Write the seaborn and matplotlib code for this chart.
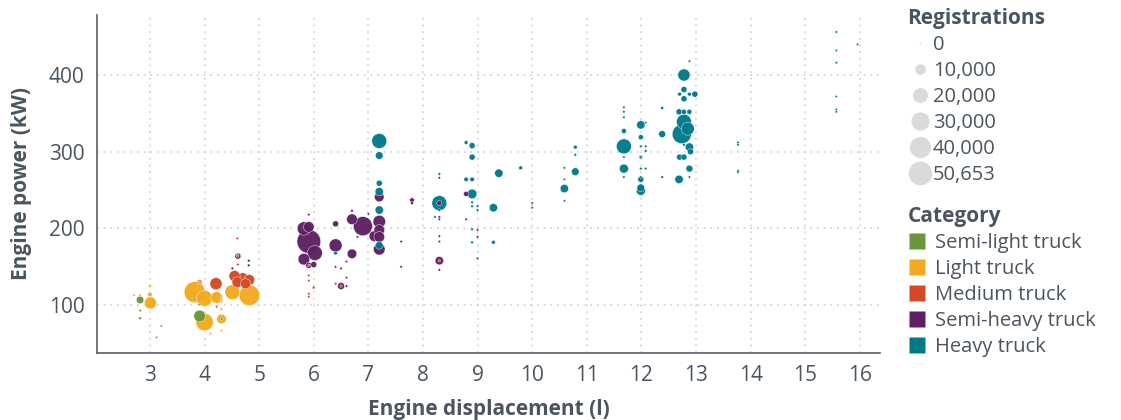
import matplotlib
matplotlib.use('Agg')
import matplotlib.pyplot as plt
from matplotlib.lines import Line2D
import pandas as pd
import seaborn as sns

# (engine displacement l, engine power kW, registrations)
semi_light = [(2.82, 107, 4700), (2.82, 93, 200), (2.82, 83, 400), (3.21, 73, 100),
              (3.12, 58, 100), (3.91, 86, 12000), (3.91, 101, 200), (3.82, 108, 200),
              (4.31, 82, 300)]

light = [(3.01, 103, 13000), (3.0, 114, 1500), (3.0, 125, 300), (2.71, 113, 200),
         (2.82, 113, 200), (3.82, 117, 40000), (4.0, 109, 23000), (4.22, 110, 12000),
         (3.91, 130, 500), (4.51, 117, 20000), (4.82, 113, 38000), (4.0, 78, 27000),
         (4.31, 82, 8000), (4.31, 105, 300), (4.31, 108, 300), (4.31, 112, 300),
         (4.31, 67, 200), (4.11, 63, 200), (4.31, 95, 200)]

medium = [(4.21, 128, 13000), (4.55, 138, 11000), (4.7, 135, 11000), (4.82, 133, 10000),
          (4.6, 130, 10000), (4.75, 128, 9000), (4.61, 153, 300), (6.4, 128, 300),
          (5.91, 139, 200), (5.91, 132, 200), (6.0, 123, 400), (5.91, 115, 200),
          (5.91, 111, 200), (4.22, 98, 200), (4.6, 187, 300), (4.6, 165, 300),
          (3.91, 130, 2000), (5.91, 152, 200), (6.5, 125, 200), (8.3, 158, 200),
          (4.61, 164, 200)]

semi_heavy = [(4.61, 164, 3000), (4.81, 158, 300), (4.81, 152, 300), (4.51, 148, 300),
              (5.82, 200, 16000), (5.91, 183, 50653), (6.02, 168, 20000), (5.82, 160, 12000),
              (5.91, 202, 10000), (5.91, 152, 3000), (6.0, 153, 3000), (5.91, 218, 200),
              (6.4, 206, 3000), (6.4, 178, 15000), (6.5, 148, 200), (6.4, 150, 200),
              (6.5, 125, 4000), (6.6, 136, 200), (6.6, 125, 200), (6.7, 167, 8000),
              (6.6, 157, 200), (6.7, 212, 10000), (6.9, 203, 33000), (6.7, 223, 300),
              (7.0, 219, 200), (7.2, 209, 14000), (7.2, 198, 10000), (7.11, 190, 10000),
              (7.2, 189, 10000), (7.2, 173, 12000), (7.2, 241, 8000), (7.6, 183, 200),
              (7.6, 150, 200), (7.8, 237, 1500), (7.8, 233, 500), (8.3, 233, 2000),
              (8.3, 224, 200), (8.3, 215, 200), (8.3, 190, 200), (8.3, 183, 200),
              (8.3, 158, 6000), (8.3, 146, 200), (8.79, 245, 2000), (9.0, 198, 200),
              (9.0, 189, 200), (9.0, 161, 200), (8.3, 212, 200), (8.79, 212, 200),
              (8.3, 266, 200), (12.38, 267, 200)]

heavy = [(6.4, 168, 1000), (6.8, 189, 300), (7.2, 314, 20000), (7.2, 295, 5000),
         (7.2, 259, 3000), (7.2, 224, 6000), (7.2, 248, 6000), (7.2, 178, 5000),
         (8.3, 233, 20000), (8.22, 215, 200), (8.3, 271, 300), (8.79, 312, 1000),
         (8.9, 308, 3000), (8.9, 293, 3000), (8.79, 264, 1500), (8.9, 264, 1500),
         (8.9, 245, 8000), (8.9, 234, 300), (8.9, 229, 300), (9.0, 229, 300),
         (9.0, 224, 300), (9.29, 227, 6000), (9.39, 272, 6000), (9.79, 279, 1000),
         (10.0, 233, 200), (10.0, 227, 200), (9.29, 182, 1000), (10.59, 252, 6000),
         (10.59, 279, 200), (10.59, 264, 200), (10.59, 236, 200), (10.79, 274, 5000),
         (10.79, 306, 1000), (10.79, 296, 300), (8.9, 199, 300), (8.9, 182, 300),
         (11.68, 307, 20000), (11.68, 358, 200), (11.68, 352, 200), (11.68, 345, 200),
         (11.68, 327, 2000), (11.68, 293, 200), (11.99, 293, 200), (11.68, 278, 7000),
         (11.68, 267, 200), (11.99, 267, 200), (11.99, 335, 6000), (12.08, 338, 200),
         (11.99, 319, 2000), (11.99, 307, 300), (12.08, 307, 300), (12.08, 301, 300),
         (11.99, 293, 1000), (11.99, 278, 300), (12.08, 278, 300), (11.99, 264, 3000),
         (11.99, 249, 7000), (11.99, 253, 5000), (12.38, 323, 4000), (12.38, 357, 500),
         (12.78, 400, 13000), (12.88, 418, 200), (12.78, 381, 3000), (12.7, 375, 1000),
         (12.88, 375, 1000), (12.98, 375, 3000), (12.78, 369, 3000), (12.69, 352, 3000),
         (12.78, 352, 2000), (12.88, 352, 2000), (12.78, 339, 20000), (12.74, 323, 33000),
         (12.85, 330, 15000), (12.78, 309, 300), (12.88, 306, 6000), (12.9, 300, 3000),
         (12.7, 293, 3000), (12.78, 293, 3000), (12.88, 278, 4000), (12.69, 264, 6000),
         (12.88, 267, 200), (13.77, 312, 200), (13.77, 309, 200), (13.77, 275, 200),
         (13.77, 273, 200), (15.57, 456, 200), (15.57, 432, 200), (15.57, 416, 200),
         (15.96, 440, 200), (15.57, 372, 200), (15.57, 355, 200), (15.57, 352, 200)]

categories = ['Semi-light truck', 'Light truck', 'Medium truck',
              'Semi-heavy truck', 'Heavy truck']
colors = ['#6b973b', '#f2ab1f', '#d54a26', '#5f2063', '#007a8a']
size_legend_values = [0, 10000, 20000, 30000, 40000, 50653]
size_legend_labels = ['0', '10,000', '20,000', '30,000', '40,000', '50,653']

text_col = '#4a5560'
max_reg = 50653
size_range = (2, 290)

frames = []
for name, pts in zip(categories, [semi_light, light, medium, semi_heavy, heavy]):
    d = pd.DataFrame(pts, columns=['displacement', 'power', 'registrations'])
    d['category'] = name
    frames.append(d)
df = pd.concat(frames, ignore_index=True)
# big bubbles first so the small ones stay visible on top
df = df.sort_values('registrations', ascending=False)

sns.set_style('white')
plt.rcParams['font.family'] = ['Open Sans', 'DejaVu Sans']

fig, ax = plt.subplots(figsize=(11.21, 4.2), dpi=100)
fig.subplots_adjust(left=0.0865, right=0.785, bottom=0.16, top=0.964)

sns.scatterplot(data=df, x='displacement', y='power', hue='category',
                hue_order=categories, palette=dict(zip(categories, colors)),
                size='registrations', sizes=size_range, size_norm=(0, max_reg),
                edgecolor='white', linewidth=0.3, alpha=0.97, legend=False, ax=ax)

ax.set_xlim(2.03, 16.37)
ax.set_ylim(38, 478)
ax.set_xticks(range(3, 17))
ax.set_yticks([100, 200, 300, 400])
ax.grid(True, color='#d0d0d0', linestyle=(0, (1, 3)), linewidth=1.2)
ax.set_axisbelow(True)
sns.despine(ax=ax)
for s in ['left', 'bottom']:
    ax.spines[s].set_color('#55606a')
    ax.spines[s].set_linewidth(1.2)
ax.tick_params(length=0, labelsize=15, labelcolor=text_col, pad=9)
ax.set_xlabel('Engine displacement (l)', fontsize=15, fontweight='bold',
              color=text_col, labelpad=9)
ax.set_ylabel('Engine power (kW)', fontsize=15, fontweight='bold',
              color=text_col, labelpad=12)

# size legend
size_handles = []
for v in size_legend_values:
    s = size_range[0] + (v / max_reg) * (size_range[1] - size_range[0])
    size_handles.append(Line2D([], [], marker='o', linestyle='', markersize=s ** 0.5,
                               markerfacecolor='#d9dadc', markeredgecolor='none'))
leg1 = ax.legend(size_handles, size_legend_labels, title='Registrations',
                 loc='upper left', bbox_to_anchor=(1.025, 1.045), frameon=False,
                 fontsize=14.5, title_fontproperties={'weight': 'bold', 'size': 15},
                 labelcolor=text_col, alignment='left', handletextpad=0.05,
                 labelspacing=0.3, borderaxespad=0, handlelength=1.2)
leg1.get_title().set_color(text_col)
ax.add_artist(leg1)

cat_handles = [Line2D([], [], marker='s', linestyle='', markersize=12,
                      markerfacecolor=c, markeredgecolor='none') for c in colors]
leg2 = ax.legend(cat_handles, categories, title='Category', loc='upper left',
                 bbox_to_anchor=(1.025, 0.46), frameon=False, fontsize=14.5,
                 title_fontproperties={'weight': 'bold', 'size': 15},
                 labelcolor=text_col, alignment='left', handletextpad=0.45,
                 labelspacing=0.3, borderaxespad=0, handlelength=0.9)
leg2.get_title().set_color(text_col)

fig.savefig('out.png', dpi=100)
